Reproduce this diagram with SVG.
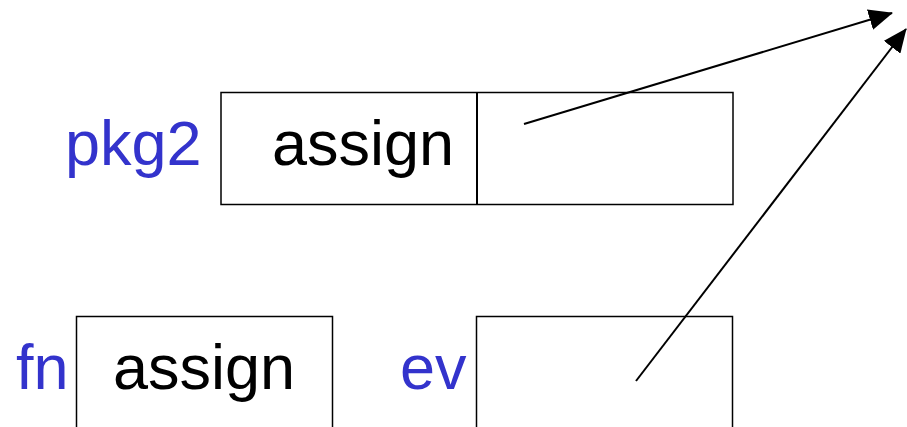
<svg xmlns="http://www.w3.org/2000/svg" width="907" height="427" viewBox="0 0 907 427">
  <style>
    .box { fill: #ffffff; stroke: #000000; stroke-width: 1.5; }
    .lbl { font-family: "Liberation Sans", Arial, sans-serif; font-size: 63px; }
    .name { fill: #3333cc; }
    .val { fill: #000000; }
    .conn { stroke: #000000; stroke-width: 2; fill: none; marker-end: url(#head); }
  </style>
  <defs>
    <marker id="head" markerUnits="userSpaceOnUse" markerWidth="24" markerHeight="21" viewBox="0 0 24 21" refX="23" refY="10.5" orient="auto">
      <path d="M0,0 L24,10.5 L0,21 Z" fill="#000000"/>
    </marker>
  </defs>

  <rect width="907" height="427" fill="#ffffff"/>

  <!-- package frame: pkg2 with its two slots -->
  <g id="pkg2">
    <text class="lbl name" x="65" y="165">pkg2</text>
    <rect class="box" x="221" y="92.5" width="512" height="112"/>
    <line x1="477" y1="92.5" x2="477" y2="204.5" stroke="#000000" stroke-width="2"/>
    <text class="lbl val" x="272" y="165">assign</text>
  </g>

  <!-- function frame -->
  <g id="fn">
    <text class="lbl name" x="16" y="389">fn</text>
    <rect class="box" x="76.5" y="316.5" width="256" height="120"/>
    <text class="lbl val" x="113" y="389">assign</text>
  </g>

  <!-- environment frame -->
  <g id="ev">
    <text class="lbl name" x="400" y="389">ev</text>
    <rect class="box" x="476.5" y="316.5" width="256" height="120"/>
  </g>

  <!-- pointers -->
  <g id="connectors">
    <line class="conn" x1="524" y1="124" x2="892" y2="13"/>
    <line class="conn" x1="636" y1="381" x2="906" y2="29"/>
  </g>
</svg>
